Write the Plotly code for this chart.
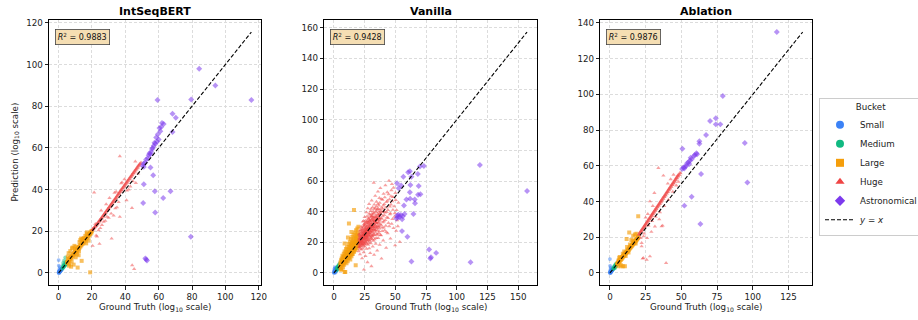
import plotly.graph_objects as go

# ---------------- data (ground truth, prediction) in log10 scale ----------------
MODELS = ["IntSeqBERT", "Vanilla", "Ablation"]
R2_TEXT = ["0.9883", "0.9428", "0.9876"]
BUCKETS = ["Small", "Medium", "Large", "Huge", "Astronomical"]

INT_SMALL = [(0.0,0.0),(0.1,0.3),(0.2,0.1),(0.3,0.5),(0.4,0.3),(0.5,0.7),(0.6,0.4),(0.7,0.9),(0.8,0.6),(0.9,1.1),
             (1.0,0.8),(1.0,1.3),(1.1,1.0),(1.2,1.5),(1.3,1.1),(1.4,1.6),(1.5,1.3),(1.6,1.9),(1.7,1.5),(1.8,2.0),
             (1.9,1.7),(2.0,2.2),(0.3,1.2),(0.5,2.0),(0.2,0.8),(0.0,6.2),(0.1,3.5),(0.8,2.8),(0.0,0.5),(0.4,0.0)]
INT_MEDIUM = [(2.2,2.0),(2.4,2.6),(2.6,2.3),(2.8,3.0),(3.0,2.8),(3.2,3.4),(3.4,3.1),(3.6,3.8),(3.8,3.5),(4.0,4.2),
              (4.2,3.9),(4.4,4.6),(4.6,4.3),(4.8,5.0),(3.0,3.6),(3.5,4.5),(4.5,5.5),(2.5,3.5),(3.3,6.0),(4.0,7.5),(2.7,4.8)]
INT_LARGE = [(5.0,5.3),(5.3,4.8),(5.6,5.9),(5.9,5.5),(6.2,6.6),(6.5,6.1),(6.8,7.2),(7.1,6.8),(7.4,7.7),(7.7,7.3),
             (8.0,8.4),(8.3,7.9),(8.6,9.0),(8.9,8.5),(9.2,9.6),(9.5,9.1),(9.8,10.2),(10.1,9.7),(10.4,10.8),(10.7,10.3),
             (11.0,11.4),(11.3,10.9),(11.6,12.0),(11.9,11.5),(12.2,12.6),(12.5,12.1),(12.8,13.2),(13.1,12.7),(13.4,13.8),(13.7,13.3),
             (14.0,14.4),(14.3,13.9),(14.6,15.0),(14.9,14.5),(15.2,15.6),(15.5,15.1),(15.8,16.2),(16.1,15.7),(16.4,16.8),(16.7,16.3),
             (17.0,17.4),(17.3,16.9),(17.6,18.0),(17.9,17.5),(18.2,18.6),(18.5,18.1),(18.8,19.2),(19.1,18.7),(19.4,19.8),(19.7,19.4),
             (19.9,20.2),(5.5,7.8),(6.0,9.5),(6.5,4.2),(7.0,10.5),(7.5,3.0),(8.0,11.8),(8.4,12.2),(9.0,4.0),(9.5,13.0),
             (10.2,7.5),(11.4,2.6),(12.0,8.5),(12.5,14.8),(13.0,15.8),(13.5,16.5),(13.8,5.8),(14.2,16.0),(14.5,16.4),(15.0,16.2),
             (15.3,16.8),(16.0,17.8),(16.5,14.2),(17.0,19.5),(18.0,15.5),(18.9,0.3),(6.2,3.5),(5.8,6.8),(7.8,5.5),(10.5,12.5),
             (11.0,9.0),(9.8,11.5),(16.8,18.8),(12.2,10.5)]
INT_HUGE = [(20.2,20.5),(20.6,21.3),(21.0,21.0),(21.4,22.0),(21.8,21.9),(22.2,22.8),(22.6,22.5),(23.0,23.6),(23.4,23.4),(23.8,24.5),
            (24.2,24.3),(24.6,25.4),(25.0,25.2),(25.4,26.2),(25.8,26.1),(26.2,27.1),(26.6,27.0),(27.0,28.0),(27.4,27.9),(27.8,28.9),
            (28.2,28.8),(28.6,29.8),(29.0,29.7),(29.4,30.7),(29.8,30.6),(30.2,31.6),(30.6,31.5),(31.0,32.5),(31.4,32.4),(31.8,33.4),
            (32.2,33.3),(32.6,34.3),(33.0,34.2),(33.4,35.2),(33.8,35.1),(34.2,36.1),(34.6,36.0),(35.0,37.0),(35.4,37.0),(35.8,38.0),
            (36.2,37.9),(36.6,38.9),(37.0,38.8),(37.4,39.8),(37.8,39.7),(38.2,40.7),(38.6,40.6),(39.0,41.6),(39.4,41.5),(39.8,42.5),
            (40.2,42.4),(40.6,43.4),(41.0,43.3),(41.4,44.3),(41.8,44.2),(42.2,45.2),(42.6,45.1),(43.0,46.1),(43.4,46.0),(43.8,47.0),
            (44.2,46.9),(44.6,47.9),(45.0,47.8),(45.4,48.8),(45.8,48.7),(46.2,49.7),(46.6,49.6),(47.0,50.6),(47.4,50.5),(47.8,51.5),
            (48.2,51.4),(48.6,52.4),(49.0,52.3),(49.4,53.0),
            (20.4,21.0),(21.2,21.6),(22.0,22.3),(22.8,23.2),(23.6,24.0),(24.4,24.9),(25.2,25.7),(26.0,26.6),(26.8,27.5),(27.6,28.4),
            (28.4,29.3),(29.2,30.2),(30.0,31.1),(30.8,32.0),(31.6,32.9),(32.4,33.8),(33.2,34.7),(34.0,35.6),(34.8,36.5),(35.6,37.5),
            (36.4,38.4),(37.2,39.3),(38.0,40.2),(38.8,41.1),(39.6,42.0),(40.4,42.9),(41.2,43.8),(42.0,44.7),(42.8,45.6),(43.6,46.5),
            (44.4,47.4),(45.2,48.3),(46.0,49.2),(46.8,50.1),(47.6,51.0),(48.4,51.9),
            (21.3,38.6),(22.5,18.0),(23.0,17.5),(24.0,20.5),(24.5,14.0),(25.0,21.5),(26.0,23.0),(27.0,24.5),(28.0,25.0),(29.0,27.0),
            (30.0,26.5),(31.5,28.5),(31.8,16.5),(33.0,27.5),(34.0,31.0),(35.0,31.5),(36.0,34.0),(36.7,56.0),(38.0,43.5),(39.5,45.0),
            (40.7,34.9),(41.0,39.5),(42.0,40.0),(43.0,41.5),(44.1,3.7),(44.0,31.2),(44.5,44.0),(45.3,1.9),(46.0,53.5),(46.3,43.2),
            (47.7,47.7),(25.5,30.0),(28.5,33.0),(30.5,36.0),(33.5,38.5),(22.0,23.5),(37.5,43.0),(34.5,39.0),(20.4,13.0),(36.7,26.9)]
INT_ASTRO = [(59.3,83.0),(84.3,98.0),(94.0,89.9),(79.5,83.2),(115.6,83.0),(68.3,76.4),(70.3,74.5),(68.3,67.6),(62.0,72.0),(63.0,71.5),
             (61.5,70.0),(60.5,69.5),(61.0,68.0),(59.5,66.5),(58.5,65.0),(59.0,63.0),(57.5,62.5),(57.0,61.0),(56.5,60.0),(56.0,59.5),
             (55.5,58.0),(55.0,57.0),(54.0,56.5),(53.5,55.0),(52.5,54.5),(52.0,53.0),(51.0,52.5),(50.5,51.5),(51.1,50.9),(55.1,50.6),
             (56.7,46.9),(51.1,42.6),(57.7,39.2),(67.1,39.2),(62.7,36.0),(50.7,33.6),(57.9,29.0),(79.3,17.4),(52.5,6.5),(53.0,6.0),
             (52.0,7.0),(60.0,64.0),(58.0,62.0),(54.5,57.5)]

VAN_SMALL = [(0.0,0.1),(0.1,0.5),(0.2,0.0),(0.3,0.8),(0.4,0.4),(0.5,1.2),(0.6,0.6),(0.7,1.6),(0.8,0.9),(0.9,2.2),
             (1.0,0.7),(1.1,1.4),(1.2,2.6),(1.3,1.0),(1.4,1.9),(1.5,3.0),(1.6,1.3),(1.7,2.3),(1.8,1.6),(1.9,3.4),
             (2.0,2.0),(0.2,1.8),(0.5,2.9),(1.0,3.8),(1.4,0.3)]
VAN_MEDIUM = [(2.1,2.5),(2.3,1.6),(2.5,3.4),(2.7,2.2),(2.9,4.1),(3.1,2.8),(3.3,3.6),(3.5,5.0),(3.7,3.1),(3.9,4.6),
              (4.1,3.7),(4.3,5.8),(4.5,4.4),(4.7,6.3),(4.9,4.0),(3.0,3.3),(3.6,4.2),(4.2,4.9),(2.6,2.9),(4.8,5.4)]
VAN_LARGE = [(5.0,4.2),(5.2,6.8),(5.4,3.1),(5.6,5.9),(5.8,8.3),(6.0,2.2),(6.1,6.4),(6.3,9.5),(6.5,4.9),(6.7,7.7),
             (6.9,11.2),(7.0,5.8),(7.2,8.9),(7.4,3.6),(7.6,10.4),(7.8,7.1),(8.0,12.6),(8.2,10.1),(8.3,5.3),(8.5,9.2),
             (8.7,14.0),(8.9,7.4),(9.0,11.3),(9.2,0.7),(9.4,13.1),(9.6,8.6),(9.8,15.6),(10.0,10.5),(10.2,6.4),(10.4,12.2),
             (10.6,16.8),(10.8,9.4),(11.0,13.9),(11.2,7.6),(11.4,23.2),(11.5,11.0),(11.7,15.2),(11.9,18.9),(12.1,9.7),(12.2,32.3),
             (12.3,13.5),(12.5,17.1),(12.7,11.4),(12.9,20.6),(13.1,14.8),(13.3,8.8),(13.5,18.0),(13.7,12.7),(13.9,22.1),(14.1,16.4),
             (14.2,26.8),(14.3,10.9),(14.5,19.5),(14.7,14.1),(14.9,23.4),(15.1,17.7),(15.3,12.3),(15.5,21.0),(15.7,15.6),(15.9,25.0),
             (16.1,19.1),(16.3,41.0),(16.4,13.8),(16.6,22.5),(16.8,17.2),(17.0,26.4),(17.2,20.4),(17.4,15.0),(17.7,5.0),(17.6,23.9),
             (17.8,18.6),(18.0,27.8),(18.2,21.7),(18.4,16.2),(18.6,25.3),(18.8,19.8),(19.0,29.0),(19.2,23.1),(19.4,17.5),(19.6,26.6),
             (19.8,21.0),(19.9,30.1),(8.7,19.2),(8.2,10.1),(6.0,2.2),(8.7,0.7),
             (5.5,5.2),(6.2,6.0),(6.8,6.9),(7.5,7.3),(8.1,8.2),(8.8,8.7),(9.5,9.6),(10.1,10.0),(10.7,11.1),(11.3,11.9),
             (11.9,12.0),(12.6,12.9),(13.2,13.6),(13.8,14.4),(14.4,14.8),(15.0,15.5),(15.6,16.4),(16.2,16.7),(16.8,17.9),(17.5,18.1),
             (18.1,19.0),(18.7,19.6),(19.3,20.4),(19.7,19.5),(6.6,8.1),(7.9,9.9),(9.1,10.8),(10.3,13.8),(11.6,13.2),(12.8,15.9),
             (14.0,17.9),(15.2,19.6),(16.5,20.3),(17.9,22.6),(19.1,24.4),(7.3,6.1),(8.6,7.0),(9.9,8.3),(11.1,9.8),(12.4,10.6),
             (13.6,11.7),(14.8,12.6),(16.0,14.2),(17.3,16.0),(18.5,17.7),(19.5,18.4)]
VAN_HUGE = [(20.1,14.2),(20.3,18.5),(20.4,21.7),(20.6,24.9),(20.8,16.8),(20.9,20.3),(21.1,27.5),(21.2,12.1),(21.4,19.4),(21.5,23.1),
            (21.7,17.6),(21.8,25.8),(22.0,21.0),(22.1,30.2),(22.3,15.3),(22.4,22.6),(22.6,19.0),(22.7,26.4),(22.9,9.5),(23.0,23.8),
            (23.1,18.2),(23.2,28.7),(23.4,21.3),(23.5,33.5),(23.6,16.0),(23.8,25.1),(23.9,20.0),(24.0,29.9),(24.2,13.4),(24.3,23.5),
            (24.4,2.2),(24.5,27.2),(24.7,19.6),(24.8,31.8),(24.9,22.2),(25.0,36.4),(25.1,17.3),(25.3,25.9),(25.4,21.1),(25.5,28.3),
            (25.7,11.0),(25.8,24.0),(25.9,34.2),(26.0,19.8),(26.2,27.6),(26.3,22.9),(26.4,39.5),(26.5,15.7),(26.7,30.3),(26.8,25.2),
            (26.9,20.6),(27.0,33.1),(27.2,26.8),(27.3,7.0),(27.4,23.4),(27.5,42.2),(27.7,29.0),(27.8,18.4),(27.9,35.7),(28.0,24.6),
            (28.2,31.2),(28.3,21.5),(28.4,27.3),(28.6,45.0),(28.7,16.1),(28.8,33.8),(29.0,25.7),(29.1,29.8),(29.2,37.9),(29.4,22.3),
            (29.5,13.0),(29.6,31.5),(29.8,27.0),(29.9,40.4),(30.0,19.4),(30.2,34.6),(30.3,24.2),(30.5,4.4),(30.6,29.2),(30.7,47.3),
            (30.9,36.8),(31.0,21.8),(31.2,32.0),(31.3,26.5),(31.5,42.8),(31.6,17.2),(31.8,30.1),(31.9,38.6),(32.0,24.8),(32.2,34.0),
            (32.4,58.9),(32.5,28.2),(32.7,11.8),(32.8,44.6),(33.0,31.4),(33.1,22.0),(33.3,36.2),(33.4,27.6),(33.6,50.3),(33.8,33.0),
            (34.0,19.0),(34.2,39.8),(34.4,29.4),(34.6,46.5),(34.8,25.0),(35.0,35.5),(35.2,14.6),(35.4,41.7),(35.6,30.7),(35.8,53.1),
            (36.0,22.8),(36.2,37.3),(36.4,33.2),(36.6,44.0),(36.8,27.1),(37.0,48.9),(37.2,18.3),(37.4,39.0),(37.6,31.9),(37.8,55.4),
            (38.0,35.8),(38.3,24.5),(38.7,9.4),(38.9,42.6),(39.2,29.7),(39.5,47.8),(39.8,37.0),(40.1,21.2),(40.4,51.6),(40.7,33.7),
            (41.0,44.9),(41.3,27.8),(41.6,39.4),(41.9,57.2),(42.2,30.8),(42.5,16.4),(42.8,46.2),(43.1,36.3),(43.4,52.7),(43.7,25.9),
            (44.0,41.1),(44.4,32.6),(44.8,60.2),(45.2,48.0),(45.6,38.2),(46.0,22.4),(46.4,44.7),(46.8,54.0),(47.2,58.0),(47.6,35.1),
            (48.0,49.6),(48.5,29.3),(49.0,43.5),(49.5,39.0),(50.0,52.2),(50.7,27.5),(51.5,34.3),(52.5,45.8),(53.6,20.3),(49.8,18.0),
            (21.3,20.8),(21.6,22.4),(21.9,19.9),(22.2,24.0),(22.5,21.4),(22.8,23.3),(23.1,22.1),(23.3,25.6),(23.7,23.0),(24.0,26.3),
            (24.1,21.9),(24.4,24.7),(24.6,22.8),(24.9,26.9),(25.2,24.4),(25.4,28.9),(25.6,23.7),(25.9,26.1),(26.1,29.5),(26.3,25.0),
            (26.6,27.9),(26.8,23.0),(27.1,30.6),(27.3,26.2),(27.6,28.6),(27.8,24.9),(28.1,29.4),(28.4,32.5),(28.5,26.0),(28.8,28.1),
            (29.1,31.0),(29.3,27.7),(29.6,33.6),(29.9,29.9),(30.1,26.9),(30.4,32.3),(30.6,28.5),(30.9,34.9),(31.1,30.5),(31.4,27.4),
            (31.7,33.9),(32.0,30.0),(32.3,36.3),(32.6,32.1),(32.9,28.8),(33.2,34.8),(33.5,31.0),(33.9,37.5),(34.3,33.4),(34.7,36.7),
            (35.1,32.2),(35.5,38.5),(35.9,34.7),(36.3,30.1),(36.7,39.9),(37.1,35.0),(37.5,41.3),(21.0,23.9),(21.4,17.3),(22.3,26.9),
            (22.9,18.9),(23.5,27.0),(23.9,17.8),(24.3,28.4),(24.8,19.2),(25.3,31.2),(25.7,20.4),(26.2,32.8),(26.7,21.6),(27.2,33.9),
            (27.7,22.6),(28.3,35.1),(28.9,23.8),(29.5,36.3),(30.0,23.1),(30.8,38.3),(31.3,24.3),(31.9,40.0),(32.4,25.5),(33.0,41.5),
            (33.7,26.4),(34.5,43.4),(35.3,27.6),(36.1,41.9),(36.9,29.0),(20.5,19.7),(20.7,22.9),(21.7,20.6),(23.4,19.9),(24.6,30.6),
            (26.4,24.1),(28.0,27.0),(29.7,25.0),(31.6,35.8),(33.1,29.9),(34.9,30.3),(26.9,36.9),(24.2,34.0),(22.6,29.4),(30.3,41.8),
            (28.7,38.7),
            (20.2,17.0),(20.5,25.5),(20.8,22.0),(21.1,15.8),(21.3,24.6),(21.6,19.0),(21.9,28.1),(22.1,17.9),(22.4,20.7),(22.7,24.8),
            (22.9,28.0),(23.2,20.4),(23.5,23.9),(23.8,18.8),(24.0,24.4),(24.3,31.6),(24.5,21.0),(24.8,25.6),(25.0,18.6),(25.3,23.0),
            (25.5,32.7),(25.8,27.4),(26.0,22.1),(26.3,29.2),(26.5,24.3),(26.8,18.9),(27.0,27.7),(27.3,31.9),(27.5,21.5),(27.8,26.1),
            (28.0,33.0),(28.3,19.7),(28.5,29.9),(28.8,24.4),(29.0,34.4),(29.3,20.8),(29.5,28.6),(29.8,32.8),(30.0,25.9),(30.3,36.9),
            (30.5,22.5),(30.8,30.9),(31.0,27.9),(31.3,37.2),(31.5,23.6),(31.8,35.0),(32.0,28.6),(32.3,21.0),(32.5,39.1),(32.8,30.7),
            (33.0,24.7),(33.3,33.8),(33.5,42.3),(33.8,28.0),(34.0,36.4),(34.3,22.8),(34.5,32.4),(34.8,40.7),(35.0,29.2),(35.3,34.7),
            (35.5,25.1),(35.8,44.9),(36.0,32.6),(36.3,38.1),(36.5,26.0),(36.8,35.9),(37.0,30.5),(37.3,45.7),(37.5,34.0),(37.8,24.8),
            (38.1,40.3),(38.4,31.2),(38.7,48.2),(39.0,35.4),(39.3,27.3),(39.6,41.9),(39.9,33.0),(40.2,44.0),(40.6,29.6),(41.0,37.8),
            (41.4,49.3),(41.8,34.5),(42.2,42.6),(42.6,26.7),(43.0,39.7),(43.5,47.1),(44.0,35.9),(44.5,51.4),(45.0,30.5),(45.5,43.4),
            (46.0,38.9),(46.5,50.0),(47.0,32.0),(47.5,46.8),(48.0,41.2),(48.5,55.6),(49.2,36.7),(50.3,47.6),(51.0,41.0),(52.0,30.5),
            (21.8,21.2),(22.6,22.9),(23.6,24.6),(24.7,25.1),(25.6,26.5),(26.5,27.1),(27.4,28.3),(28.6,28.7),(29.4,29.4),(30.2,30.0),
            (31.2,31.4),(32.1,32.7),(33.1,33.2),(34.1,34.6),(35.2,35.1),(36.2,36.0),(37.2,37.6),(38.2,38.4),(39.4,39.7),(40.5,40.3)]
VAN_ASTRO = [(118.8,70.5),(157.2,53.5),(111.2,7.0),(63.1,7.4),(78.5,9.4),(79.0,10.2),(77.5,15.3),(83.2,13.1),(59.8,23.6),(55.4,27.3),
             (50.8,35.5),(51.5,37.5),(52.5,38.0),(53.5,36.5),(54.5,37.8),(55.5,35.0),(56.0,37.0),(57.5,38.5),(52.0,36.2),(64.7,38.4),
             (59.0,48.0),(65.8,48.0),(61.8,52.6),(68.5,51.0),(70.4,51.3),(69.0,56.7),(62.2,57.4),(52.7,55.2),(51.4,58.5),(54.7,57.0),
             (60.4,65.7),(61.8,66.3),(63.1,62.8),(68.3,64.6),(70.0,69.4),(73.2,69.8),(56.5,62.8),(62.0,48.5),(57.0,44.0),(66.0,45.5)]

ABL_SMALL = [(0.0,0.0),(0.1,0.4),(0.2,0.1),(0.3,0.6),(0.4,0.2),(0.5,0.8),(0.6,0.4),(0.7,1.0),(0.8,0.5),(0.9,1.2),
             (1.0,0.9),(1.1,1.4),(1.2,1.0),(1.3,1.7),(1.4,1.2),(1.5,1.9),(1.6,1.5),(1.7,2.1),(1.8,1.7),(1.9,2.3),
             (2.0,1.9),(0.2,1.3),(0.4,2.2),(0.0,7.8),(0.1,4.0),(0.6,3.0),(0.0,0.6),(0.5,0.0)]
ABL_MEDIUM = [(2.2,2.3),(2.4,2.1),(2.6,2.8),(2.8,2.6),(3.0,3.3),(3.2,3.0),(3.4,3.7),(3.6,3.4),(3.8,4.1),(4.0,3.8),
              (4.2,4.5),(4.4,4.2),(4.6,4.9),(4.8,4.6),(3.1,3.9),(3.7,4.6),(4.3,5.3),(2.5,3.2),(3.5,2.7),(4.5,3.9)]
ABL_LARGE = [(5.0,5.2),(5.3,5.0),(5.6,5.8),(5.9,5.6),(6.2,6.5),(6.5,6.2),(6.8,7.1),(7.1,6.9),(7.4,7.7),(7.7,7.4),
             (8.0,8.3),(8.3,8.0),(8.6,8.9),(8.9,8.7),(9.2,9.5),(9.5,9.3),(9.8,10.1),(10.1,9.9),(10.4,10.7),(10.7,10.5),
             (11.0,11.3),(11.3,11.1),(11.6,11.9),(11.9,11.7),(12.2,12.5),(12.5,12.3),(12.8,13.1),(13.1,12.9),(13.4,13.7),(13.7,13.5),
             (14.0,14.3),(14.3,14.1),(14.6,14.9),(14.9,14.7),(15.2,15.5),(15.5,15.3),(15.8,16.1),(16.1,15.9),(16.4,16.8),(16.7,16.5),
             (17.0,17.4),(17.3,17.1),(17.6,18.0),(17.9,17.7),(18.2,18.6),(18.5,18.3),(18.8,19.2),(19.1,18.9),(19.4,19.9),(19.7,19.6),
             (19.9,20.4),(19.8,31.7),(13.5,22.7),(16.3,20.9),(11.7,19.0),(9.3,3.7),(5.8,3.7),(10.5,3.7),(7.5,4.5),(8.0,3.8),
             (15.0,18.5),(17.5,21.5),(18.5,22.0),(12.0,14.5),(6.5,8.5),(6.0,7.0),(7.0,9.0),(9.0,10.8),(10.0,12.0),(14.0,16.0),
             (16.0,18.0),(13.0,11.5),(11.0,9.5),(18.0,16.5)]
ABL_HUGE = [(20.2,21.5),(20.6,21.4),(21.0,22.6),(21.4,22.4),(21.8,23.5),(22.2,23.3),(22.6,24.4),(23.0,24.3),(23.4,25.4),(23.8,25.2),
            (24.2,26.3),(24.6,26.1),(25.0,27.3),(25.4,27.1),(25.8,28.2),(26.2,28.1),(26.6,29.2),(27.0,29.0),(27.4,30.2),(27.8,30.0),
            (28.2,31.1),(28.6,30.9),(29.0,32.1),(29.4,31.9),(29.8,33.0),(30.2,32.9),(30.6,34.0),(31.0,33.8),(31.4,35.0),(31.8,34.8),
            (32.2,35.9),(32.6,35.7),(33.0,36.9),(33.4,36.7),(33.8,37.8),(34.2,37.7),(34.6,38.8),(35.0,38.6),(35.4,39.8),(35.8,39.6),
            (36.2,40.7),(36.6,40.5),(37.0,41.7),(37.4,41.5),(37.8,42.6),(38.2,42.5),(38.6,43.6),(39.0,43.4),(39.4,44.6),(39.8,44.4),
            (40.2,45.5),(40.6,45.3),(41.0,46.5),(41.4,46.3),(41.8,47.4),(42.2,47.3),(42.6,48.4),(43.0,48.2),(43.4,49.4),(43.8,49.2),
            (44.2,50.3),(44.6,50.1),(45.0,51.3),(45.4,51.1),(45.8,52.2),(46.2,52.1),(46.6,53.2),(47.0,53.0),(47.4,54.2),(47.8,54.0),
            (48.2,55.1),(48.6,54.9),(49.0,56.1),(49.4,55.8),
            (20.4,21.9),(21.2,22.9),(22.0,23.9),(22.8,24.8),(23.6,25.8),(24.4,26.8),(25.2,27.7),(26.0,28.7),(26.8,29.7),(27.6,30.6),
            (28.4,31.6),(29.2,32.6),(30.0,33.5),(30.8,34.5),(31.6,35.4),(32.4,36.4),(33.2,37.4),(34.0,38.3),(34.8,39.3),(35.6,40.3),
            (36.4,41.2),(37.2,42.2),(38.0,43.1),(38.8,44.1),(39.6,45.1),(40.4,46.0),(41.2,47.0),(42.0,48.0),(42.8,48.9),(43.6,49.9),
            (44.4,50.8),(45.2,51.8),(46.0,52.8),(46.8,53.7),(47.6,54.7),
            (37.4,54.5),(31.1,44.8),(36.9,26.5),(22.9,8.0),(28.0,9.3),(25.7,7.4),(39.3,5.6),(22.2,16.8),(33.9,58.8),(36.2,26.1),
            (28.0,40.1),(23.4,8.4),(22.2,14.9),(30.0,37.5),(26.5,33.0),(24.0,22.0),(27.0,26.5),(29.5,29.0),(32.0,31.5),(35.0,34.0),
            (38.0,37.5),(41.0,41.0),(44.0,45.5),(46.5,49.0),(48.0,51.0),(42.5,52.5),(44.5,55.0),(40.5,50.0),(25.0,31.0),(21.5,19.5),
            (23.5,20.5),(26.0,19.5),(29.0,23.0),(31.5,26.0),(34.5,30.0)]
ABL_ASTRO = [(116.8,134.9),(79.0,99.1),(74.1,86.6),(70.1,85.1),(74.1,83.2),(77.3,83.2),(67.3,77.3),(62.6,73.7),(62.6,72.4),(94.4,72.8),
             (50.7,69.6),(59.4,66.1),(58.8,65.5),(57.3,63.8),(56.0,63.0),(55.0,62.0),(54.0,61.5),(53.5,60.0),(52.5,59.5),(51.5,59.0),
             (50.5,58.2),(60.5,67.0),(61.0,66.5),(56.5,64.5),(96.2,50.7),(63.8,55.4),(57.2,42.7),(52.1,37.7),(63.3,27.4),(55.5,61.0),
             (52.0,58.5)]

PANEL_DATA = [
    [INT_SMALL, INT_MEDIUM, INT_LARGE, INT_HUGE, INT_ASTRO],
    [VAN_SMALL, VAN_MEDIUM, VAN_LARGE, VAN_HUGE, VAN_ASTRO],
    [ABL_SMALL, ABL_MEDIUM, ABL_LARGE, ABL_HUGE, ABL_ASTRO],
]
X_DTICK = [20, 25, 25]
Y_DTICK = [20, 20, 20]

# ---------------- styles ----------------
COLORS = ["#3b82f6", "#10b981", "#f59e0b", "#ef4444", "#7c3aed"]
SYMBOLS = ["circle", "circle", "square", "triangle-up", "diamond"]
SIZES = [3.8, 3.8, 4.0, 3.8, 4.6]
OPAC = [0.5, 0.5, 0.65, 0.5, 0.55]
FONT = "DejaVu Sans"
W, H = 918, 320
PX_X = [(49, 261), (324.3, 536.7), (600.3, 812.3)]
PX_Y = (20, 285)

fig = go.Figure()
layout = dict(
    width=W, height=H, margin=dict(l=0, r=0, t=0, b=0, autoexpand=False),
    paper_bgcolor="white", plot_bgcolor="white",
    font=dict(family=FONT, size=8.7, color="#222"),
    showlegend=True,
)
annotations = []
ydom = [1 - PX_Y[1] / H, 1 - PX_Y[0] / H]

for p in range(3):
    sfx = "" if p == 0 else str(p + 1)
    xa, ya = "x" + sfx, "y" + sfx
    allv = [v for b in PANEL_DATA[p] for pt in b for v in pt]
    lo, hi = min(allv + [0]), max(allv)
    pad = 0.05 * (hi - lo)
    rng = [lo - pad, hi + pad]
    for b in range(5):
        pts = PANEL_DATA[p][b]
        fig.add_trace(go.Scatter(
            x=[q[0] for q in pts], y=[q[1] for q in pts], mode="markers",
            xaxis=xa, yaxis=ya, showlegend=False, hoverinfo="skip",
            marker=dict(color=COLORS[b], symbol=SYMBOLS[b], size=SIZES[b],
                        opacity=OPAC[b], line=dict(width=0)),
        ))
    fig.add_trace(go.Scatter(
        x=[lo, hi], y=[lo, hi], mode="lines", xaxis=xa, yaxis=ya,
        name="<i>y</i> = <i>x</i>", showlegend=(p == 0), legendrank=10,
        line=dict(color="black", width=1.1, dash="4px,2px"),
    ))
    axcommon = dict(
        showline=True, mirror=True, linecolor="black", linewidth=1,
        ticks="outside", ticklen=3.5, tickwidth=0.8, tickcolor="#222",
        showgrid=True, gridcolor="#dcdcdc", gridwidth=0.7, griddash="3px,2px",
        zeroline=False, range=rng, tick0=0,
        tickfont=dict(family=FONT, size=8.7, color="#222"),
    )
    layout["xaxis" + sfx] = dict(axcommon, domain=[PX_X[p][0] / W, PX_X[p][1] / W],
                                 dtick=X_DTICK[p], anchor=ya)
    layout["yaxis" + sfx] = dict(axcommon, domain=ydom, dtick=Y_DTICK[p], anchor=xa)
    cx = (PX_X[p][0] + PX_X[p][1]) / 2 / W
    annotations.append(dict(text="<b>" + MODELS[p] + "</b>", x=cx, y=1 - 11 / H,
                            xref="paper", yref="paper", showarrow=False,
                            xanchor="center", yanchor="middle",
                            font=dict(family=FONT, size=11, color="black")))
    annotations.append(dict(text="Ground Truth (log<sub>10</sub> scale)", x=cx, y=1 - 307 / H,
                            xref="paper", yref="paper", showarrow=False,
                            xanchor="center", yanchor="middle",
                            font=dict(family=FONT, size=8.7, color="#222")))
    annotations.append(dict(text="<i>R</i><sup>2</sup> = " + R2_TEXT[p],
                            x=0.028, y=0.966, xref=xa + " domain", yref=ya + " domain",
                            showarrow=False, xanchor="left", yanchor="top",
                            bgcolor="#f5deb3", bordercolor="#444", borderwidth=0.8,
                            borderpad=2, font=dict(family=FONT, size=8, color="#111")))

annotations.append(dict(text="Prediction (log<sub>10</sub> scale)", x=15 / W,
                        y=1 - (PX_Y[0] + PX_Y[1]) / 2 / H, xref="paper", yref="paper",
                        showarrow=False, textangle=-90, xanchor="center", yanchor="middle",
                        font=dict(family=FONT, size=8.7, color="#222")))

# legend entries (full-opacity markers)
for b in range(5):
    fig.add_trace(go.Scatter(
        x=[None], y=[None], mode="markers", name=BUCKETS[b], legendrank=b + 1,
        marker=dict(color=COLORS[b], symbol=SYMBOLS[b], size=8),
    ))

layout["annotations"] = annotations
layout["legend"] = dict(
    x=819 / W, y=1 - 167 / H, xanchor="left", yanchor="middle",
    bgcolor="white", bordercolor="#cccccc", borderwidth=1,
    font=dict(family=FONT, size=8.7, color="#222"),
    title=dict(text="Bucket", side="top center", font=dict(family=FONT, size=8.7, color="#222")),
    traceorder="normal",
)
fig.update_layout(**layout)
fig.write_html("out.html", config={"displayModeBar": False},
               post_script="document.body.style.margin='0';document.body.style.overflow='hidden';")
